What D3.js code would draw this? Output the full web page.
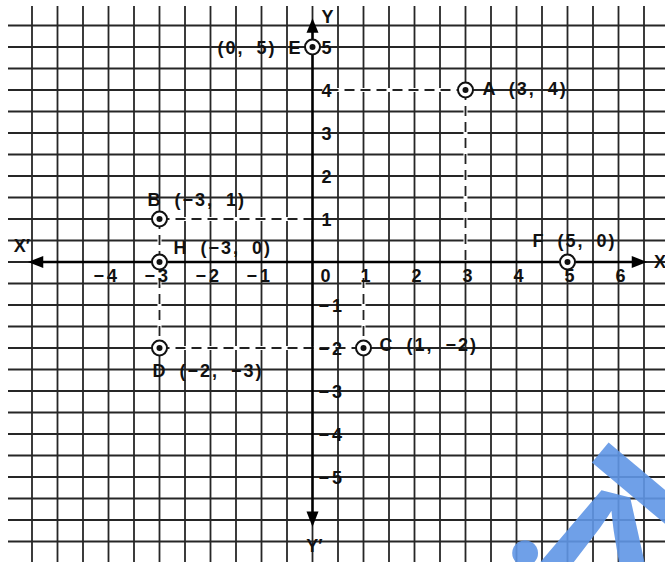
<!DOCTYPE html>
<html>
<head>
<meta charset="utf-8">
<script src="https://cdn.jsdelivr.net/npm/d3@7"></script>
<style>
  body { margin: 0; background: #fff; }
  svg { display: block; }
  text { font-family: "Liberation Sans", Arial, sans-serif; font-weight: bold; fill: #111; }
</style>
</head>
<body>
<div id="chart-area"></div>
<script>
// tick values on the two axes
var xTicks = [-4, -3, -2, -1, 0, 1, 2, 3, 4, 5, 6];
var yTicks = [-5, -4, -3, -2, -1, 1, 2, 3, 4, 5];

// plotted points
var pointNames = ["E", "A", "B", "H", "F", "C", "D"];
var pointX = [0, 3, -3, -3, 5, 1, -3];
var pointY = [5, 4, 1, 0, 0, -2, -2];
var pointLabels = ["(0, 5) E", "A (3, 4)", "B (\u22123, 1)", "H (\u22123, 0)", "F (5, 0)", "C (1, \u22122)", "D (\u22122, \u22123)"];

// dashed guide segments [x1, y1, x2, y2]
var guides = [
    [0, 4, 3, 4], [3, 4, 3, 0],
    [-3, 1, 0, 1], [-3, 1, -3, 0],
    [1, 0, 1, -2],
    [-3, 0, -3, -2], [-3, -2, 1, -2]
];

var width = 665, height = 562;

// label placement (pixels from the point)
var labelPos = {
    E: { dx: -10, dy: 1, anchor: "end" },
    A: { dx: 17, dy: -1, anchor: "start" },
    B: { dx: -12, dy: -19, anchor: "start" },
    H: { dx: 14, dy: -14, anchor: "start" },
    F: { dx: -35, dy: -21, anchor: "start" },
    C: { dx: 16, dy: -3, anchor: "start" },
    D: { dx: -7, dy: 23, anchor: "start" }
};

var svg = d3.select("#chart-area")
    .append("svg")
    .attr("width", width)
    .attr("height", height);

var x = d3.scaleLinear().domain([-6, 7]).range([6.5, 669.5]);
var y = d3.scaleLinear().domain([-7, 6]).range([563, 4]);

// grid, two squares per unit
var vLines = d3.range(-5.5, 7.01, 0.5);
var hLines = d3.range(-7, 5.51, 0.5);

var grid = svg.append("g").attr("class", "grid")
    .attr("stroke", "#262626")
    .attr("stroke-width", 1.8);

grid.selectAll(".v")
    .data(vLines)
    .enter()
    .append("line")
    .attr("x1", d => x(d)).attr("x2", d => x(d))
    .attr("y1", 6).attr("y2", height);

grid.selectAll(".h")
    .data(hLines)
    .enter()
    .append("line")
    .attr("x1", 8).attr("x2", width)
    .attr("y1", d => y(d)).attr("y2", d => y(d));

// dashed guides: white under-stroke then dashes
var g2 = svg.append("g");
g2.selectAll(".gw")
    .data(guides)
    .enter()
    .append("line")
    .attr("x1", d => x(d[0])).attr("y1", d => y(d[1]))
    .attr("x2", d => x(d[2])).attr("y2", d => y(d[3]))
    .attr("stroke", "#fff")
    .attr("stroke-width", 4);

g2.selectAll(".gd")
    .data(guides)
    .enter()
    .append("line")
    .attr("x1", d => x(d[0])).attr("y1", d => y(d[1]))
    .attr("x2", d => x(d[2])).attr("y2", d => y(d[3]))
    .attr("stroke", "#222")
    .attr("stroke-width", 1.8)
    .attr("stroke-dasharray", "10,6");

// axes lines with arrows
var axes = svg.append("g").attr("stroke", "#000").attr("stroke-width", 2.4);
axes.append("line")
    .attr("x1", x(-5.3)).attr("x2", x(6.28))
    .attr("y1", y(0)).attr("y2", y(0));
axes.append("line")
    .attr("x1", x(0)).attr("x2", x(0))
    .attr("y1", y(5.35)).attr("y2", y(-5.82));

var arrows = [
    [[x(-5.58), y(0)], [x(-5.28), y(0) - 6], [x(-5.28), y(0) + 6]],
    [[x(6.56), y(0)], [x(6.26), y(0) - 6], [x(6.26), y(0) + 6]],
    [[x(0), y(5.67)], [x(0) - 6, y(5.33)], [x(0) + 6, y(5.33)]],
    [[x(0), y(-6.16)], [x(0) - 6, y(-5.8)], [x(0) + 6, y(-5.8)]]
];
svg.append("g").selectAll("path")
    .data(arrows)
    .enter()
    .append("path")
    .attr("d", d => "M" + d.join("L") + "Z")
    .attr("fill", "#000");

// tick labels
var fmt = d => d < 0 ? "\u2212" + (-d) : String(d);

var xAxis = svg.append("g")
    .attr("transform", `translate(0, ${y(0)})`)
    .call(d3.axisBottom(x).tickValues(xTicks).tickFormat(fmt).tickSize(0));
xAxis.select(".domain").remove();
xAxis.selectAll("text")
    .attr("font-size", 18)
    .attr("font-family", null)
    .attr("letter-spacing", 3)
    .attr("dy", null)
    .attr("y", 20)
    .attr("text-anchor", d => d < 0 ? "end" : "middle")
    .attr("x", d => d < 0 ? 11 : (d === 0 ? 14 : 3));

var yAxis = svg.append("g")
    .attr("transform", `translate(${x(0)}, 0)`)
    .call(d3.axisRight(y).tickValues(yTicks).tickFormat(fmt).tickSize(0));
yAxis.select(".domain").remove();
yAxis.selectAll("text")
    .attr("font-size", 18)
    .attr("font-family", null)
    .attr("letter-spacing", 3)
    .attr("dy", "0.36em")
    .attr("x", d => d < 0 ? 6 : 9);

// axis names
var names = [
    { t: "Y", px: x(0) + 15, py: 23, a: "middle" },
    { t: "Y\u2032", px: x(0) + 2, py: 552, a: "middle" },
    { t: "X\u2032", px: 22, py: 252, a: "middle" },
    { t: "X", px: 654, py: 268, a: "start" }
];
svg.append("g").selectAll("text")
    .data(names)
    .enter()
    .append("text")
    .attr("x", d => d.px).attr("y", d => d.py)
    .attr("text-anchor", d => d.a)
    .attr("font-size", 18)
    .text(d => d.t);

// points
var pts = pointNames.map((n, i) => ({ name: n, x: pointX[i], y: pointY[i], label: pointLabels[i] }));

var pg = svg.append("g");
pg.selectAll(".ring")
    .data(pts)
    .enter()
    .append("circle")
    .attr("cx", d => x(d.x)).attr("cy", d => y(d.y))
    .attr("r", 7.5)
    .attr("fill", "#fff")
    .attr("stroke", "#111")
    .attr("stroke-width", 2);
pg.selectAll(".dot")
    .data(pts)
    .enter()
    .append("circle")
    .attr("cx", d => x(d.x)).attr("cy", d => y(d.y))
    .attr("r", 3)
    .attr("fill", "#111");

pg.selectAll(".lab")
    .data(pts)
    .enter()
    .append("text")
    .attr("x", d => x(d.x) + labelPos[d.name].dx)
    .attr("y", d => y(d.y) + labelPos[d.name].dy)
    .attr("dy", "0.36em")
    .attr("text-anchor", d => labelPos[d.name].anchor)
    .attr("font-size", 18)
    .attr("letter-spacing", 2)
    .attr("word-spacing", 5)
    .text(d => d.label);

// watermark pieces in the corner
var wm = svg.append("g").attr("opacity", 0.9);
wm.append("text")
    .attr("x", 525).attr("y", 549)
    .attr("text-anchor", "middle")
    .attr("dominant-baseline", "central")
    .attr("font-family", "DejaVu Sans")
    .attr("font-size", 60)
    .style("fill", "#6096e6")
    .text("\u25CF");
wm.append("text")
    .attr("transform", "translate(616, 494) rotate(194) scale(1.35, 1)")
    .attr("text-anchor", "middle")
    .attr("font-family", "Liberation Serif, serif")
    .attr("font-size", 150)
    .style("fill", "#6096e6")
    .text("V");
wm.append("text")
    .attr("transform", "translate(695, 532) rotate(-50)")
    .attr("text-anchor", "middle")
    .attr("font-family", "Liberation Serif, serif")
    .attr("font-size", 180)
    .style("fill", "#6096e6")
    .text("I");
</script>
</body>
</html>
